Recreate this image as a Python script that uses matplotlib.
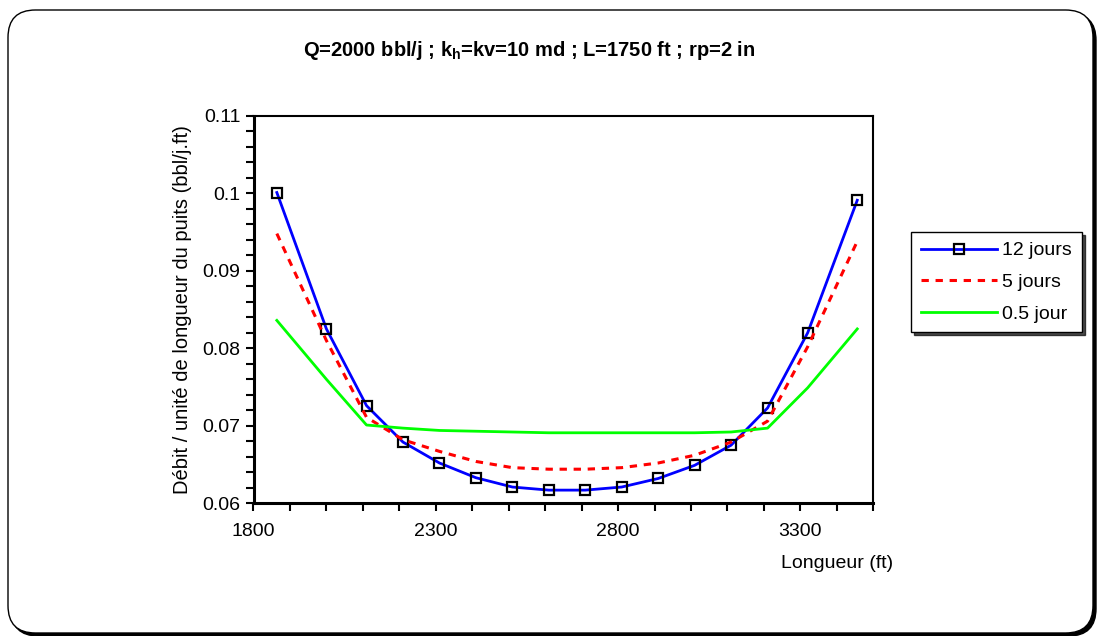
import matplotlib
matplotlib.use("Agg")
import matplotlib.pyplot as plt
import matplotlib.patches as patches
from matplotlib.ticker import MultipleLocator, FuncFormatter

# Données
longueur = [1864, 2000, 2110, 2210, 2310, 2410, 2510, 2610, 2710, 2810, 2910, 3010, 3110, 3210, 3320, 3456]
debit_12j = [0.1001, 0.0825, 0.0726, 0.0679, 0.0652, 0.0633, 0.0621, 0.0617, 0.0617, 0.0621, 0.0632, 0.0649, 0.0675, 0.0723, 0.0820, 0.0991]
debit_5j = [0.0948, 0.0810, 0.0711, 0.0682, 0.0667, 0.0654, 0.0646, 0.0644, 0.0644, 0.0646, 0.0652, 0.0662, 0.0679, 0.0706, 0.0802, 0.0938]
debit_05j = [0.0836, 0.0760, 0.0701, 0.0697, 0.0694, 0.0693, 0.0692, 0.0691, 0.0691, 0.0691, 0.0691, 0.0691, 0.0692, 0.0697, 0.0749, 0.0825]
labels = ["12 jours", "5 jours", "0.5 jour"]
xticks = [1800, 2300, 2800, 3300]

plt.rcParams['font.family'] = ['Liberation Sans', 'DejaVu Sans']
plt.rcParams['mathtext.fontset'] = 'custom'
plt.rcParams['mathtext.rm'] = 'Liberation Sans:bold'
plt.rcParams['mathtext.it'] = 'Liberation Sans:bold'
plt.rcParams['mathtext.bf'] = 'Liberation Sans:bold'

W, H = 1098, 636
fs = 14
fig = plt.figure(figsize=(W / 100, H / 100), dpi=100)

# cadre arrondi autour du graphique, ombre pleine derrière un fond blanc
for dx, dy, fond, bord in [(3, -3, 'black', 'black'), (0, 0, 'white', 'black')]:
    cadre = patches.FancyBboxPatch(((8 + dx) / W, (3 + dy) / H), (1093 - 8) / W, (626 - 3) / H,
                                   boxstyle="round,pad=0,rounding_size=0.025",
                                   transform=fig.transFigure, facecolor=fond,
                                   edgecolor=bord, linewidth=1.0, mutation_aspect=W / H, zorder=-1)
    fig.patches.append(cadre)

ax = fig.add_axes([253.5 / W, 1 - 503.3 / H, (873.3 - 253.5) / W, (503.3 - 115.8) / H])
ax.set_facecolor('white')

ax.plot(longueur, debit_12j, color='#0000ff', linewidth=2.0, marker='s', markersize=7,
        markerfacecolor='none', markeredgecolor='black', markeredgewidth=1.6, label=labels[0])
ax.plot(longueur, debit_5j, color='#ff0000', linewidth=2.2, linestyle=(0, (2.4, 2.2)), label=labels[1])
ax.plot(longueur, debit_05j, color='#00ff00', linewidth=2.0, label=labels[2])

ax.set_xlim(1800, 3500)
ax.set_ylim(0.06, 0.11)
ax.set_xticks(xticks)
ax.xaxis.set_minor_locator(MultipleLocator(100))
ax.yaxis.set_major_locator(MultipleLocator(0.01))
ax.yaxis.set_minor_locator(MultipleLocator(0.002))
ax.yaxis.set_major_formatter(FuncFormatter(lambda v, p: f"{v:.2f}".rstrip('0')))
ax.tick_params(axis='both', which='both', direction='out', length=6, width=1.5, labelsize=fs)
ax.tick_params(axis='x', pad=8)
for s in ['left', 'bottom']:
    ax.spines[s].set_linewidth(2.2)
for s in ['top', 'right']:
    ax.spines[s].set_linewidth(1.5)

fig.text(529.5 / W, 1 - 50 / H, "Q=2000 bbl/j ; k$_{h}$=kv=10 md ; L=1750 ft ; rp=2 in",
         ha='center', va='center', fontsize=14.5, fontweight='bold')
fig.text(183 / W, 1 - 310 / H, "Débit / unité de longueur du puits (bbl/j.ft)",
         rotation=90, ha='center', va='center', fontsize=14.5)
fig.text(893 / W, 1 - 563 / H, "Longueur (ft)", ha='right', va='center', fontsize=fs)

leg = ax.legend(loc='upper left', bbox_to_anchor=(911 / W, 1 - 232 / H), bbox_transform=fig.transFigure,
                borderaxespad=0, fontsize=fs, handlelength=3.9, handletextpad=0.3,
                labelspacing=0.72, borderpad=0.5, fancybox=False,
                shadow={'color': 'black', 'alpha': 0.7}, framealpha=1)
leg.get_frame().set_edgecolor('black')
leg.get_frame().set_linewidth(1.0)

fig.savefig("out.png", dpi=100)
